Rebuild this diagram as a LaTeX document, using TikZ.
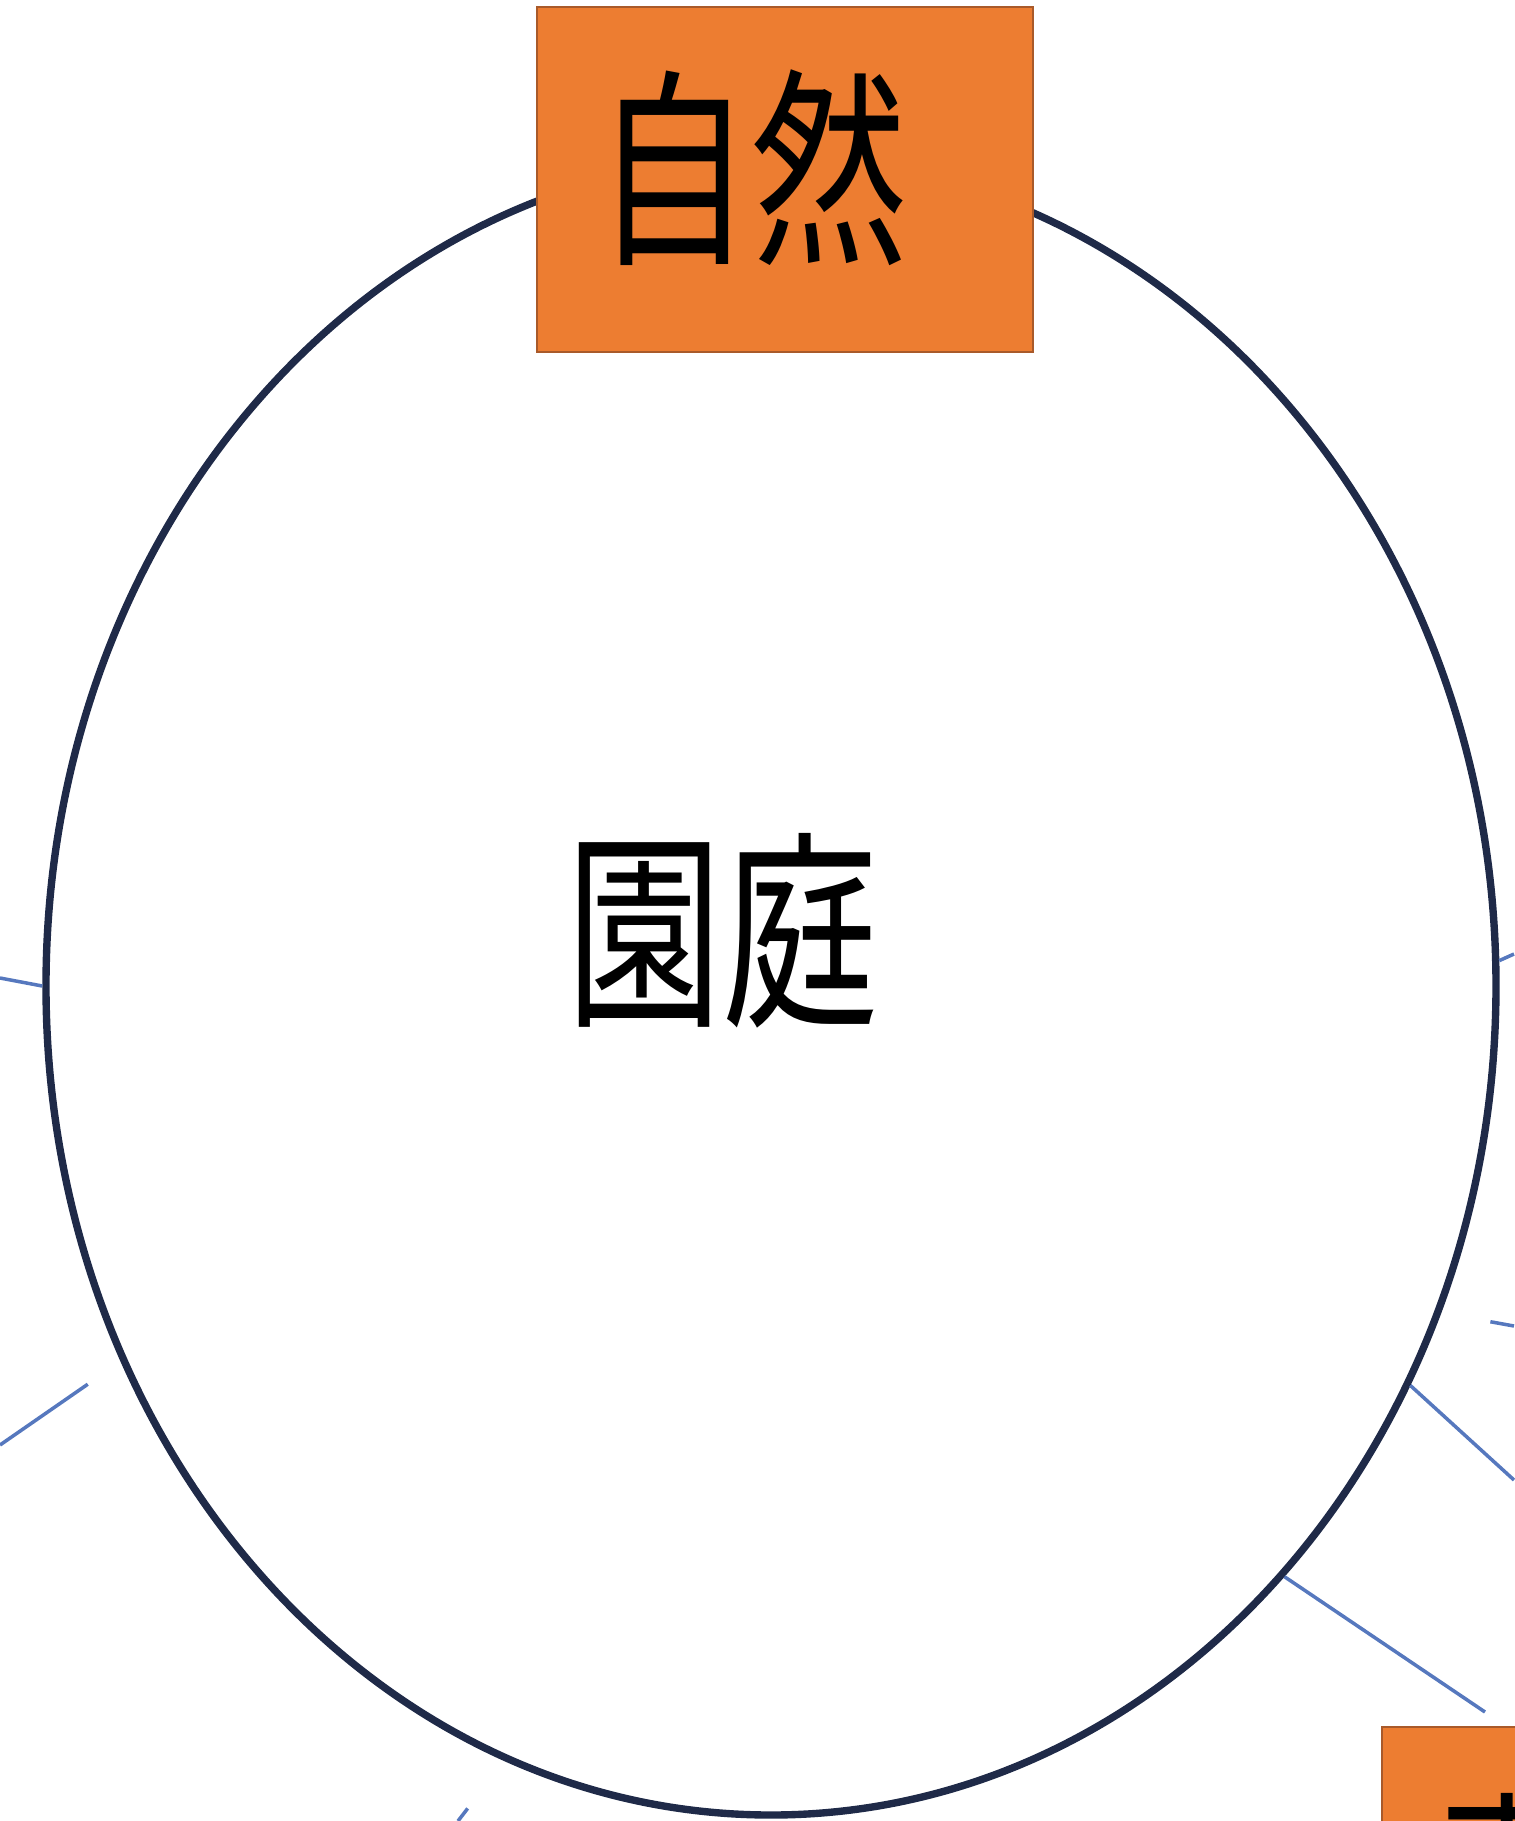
\documentclass[tikz,border=0pt]{standalone}
\usepackage{fontspec}
\newfontfamily\jpfont[FakeStretch=0.74]{Noto Sans CJK JP}
\usetikzlibrary{shapes.geometric}
\definecolor{boxorange}{HTML}{ED7D31}
\definecolor{boxedge}{HTML}{A95A2A}
\definecolor{ringnavy}{HTML}{1F2A48}
\definecolor{spokeblue}{HTML}{5678BE}
\begin{document}
\begin{tikzpicture}[ring/.style={ellipse, draw=ringnavy, line width=2.1pt, inner sep=0pt, minimum width=14.5cm, minimum height=16.58cm},
        tag/.style={rectangle, fill=boxorange, draw=boxedge, line width=0.8pt, minimum width=4.96cm, minimum height=3.45cm},
        word/.style={inner sep=0pt, anchor=base west, font=\jpfont\fontsize{60pt}{60pt}\selectfont},
        spoke/.style={draw=spokeblue, line width=1pt}]
        \useasboundingbox (0,0) rectangle (15.14,-18.21);
        \node[style=ring] (garden) at (7.71,-9.86) {};
        \node[style=word] (gardentext) at (5.655,-10.10) {園庭};

        \coordinate (w1) at (0,-9.78);
        \coordinate (w2) at (0,-14.45);
        \coordinate (s1) at (4.58,-18.21);
        \coordinate (e1) at (15.14,-9.54);
        \coordinate (e2) at (15.14,-13.26);
        \coordinate (e3) at (15.14,-14.80);
        \coordinate (e4) at (14.85,-17.12);

        \draw[spoke] (garden.180) -- (w1);
        \draw[spoke, shorten <=0.4cm] (garden.210) -- (w2);
        \draw[spoke, shorten <=0.6cm] (garden.251) -- (s1);
        \draw[spoke] (garden.2) -- (e1);
        \draw[spoke, shorten <=0.5cm] (garden.-26) -- (e2);
        \draw[spoke] (garden.-32) -- (e3);
        \draw[spoke] (garden.-49) -- (e4);

        \node[style=tag] (naturebox) at (7.85,-1.795) {};
        \node[style=word] (nature) at (5.945,-2.48) {自然};
        \node[style=tag] (skybox) at (16.30,-18.995) {};
        \node[style=word] (sky) at (14.29,-19.70) {青};
    \end{tikzpicture}
\end{document}
